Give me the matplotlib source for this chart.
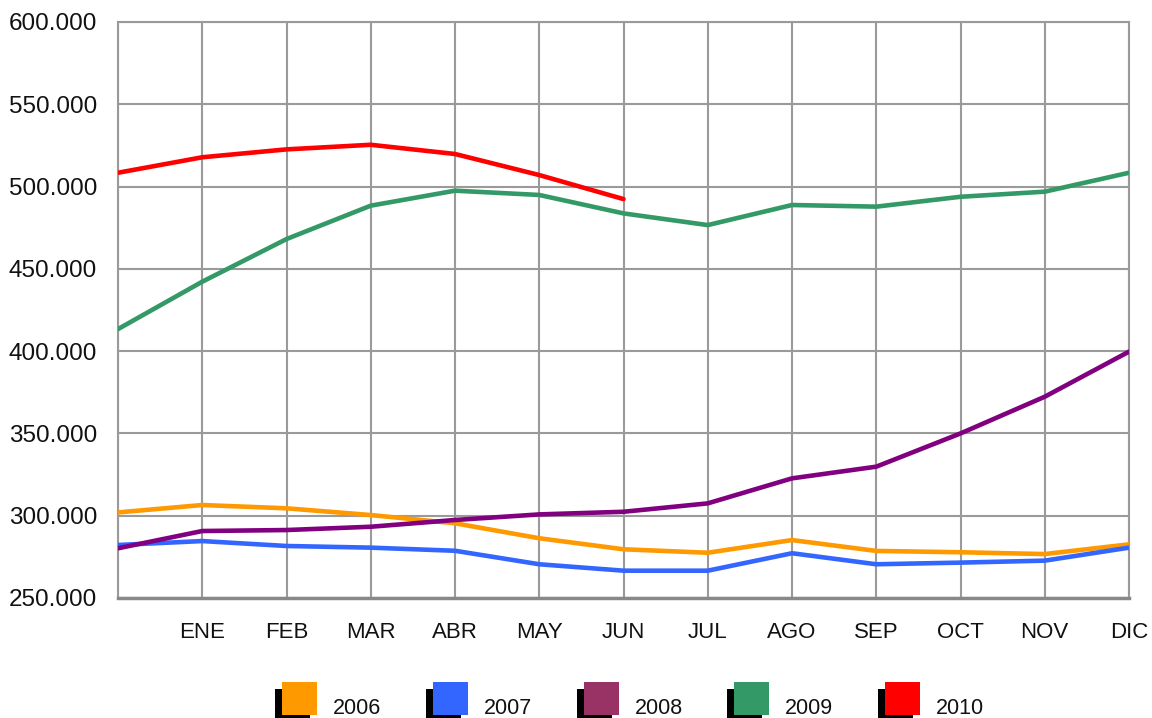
import matplotlib
matplotlib.use("Agg")
import matplotlib.pyplot as plt
from matplotlib.patches import Rectangle
from matplotlib.ticker import FuncFormatter, MultipleLocator

# ---- data ----
labels = ["", "ENE", "FEB", "MAR", "ABR", "MAY", "JUN", "JUL", "AGO", "SEP", "OCT", "NOV", "DIC"]
years = ["2006", "2007", "2008", "2009", "2010"]
v2006 = [302000, 306500, 304500, 300400, 295400, 286300, 279600, 277500, 285200, 278600, 277800, 276700, 282600]
v2007 = [282200, 284600, 281600, 280600, 278700, 270500, 266600, 266600, 277200, 270500, 271500, 272700, 280600]
v2008 = [280200, 290700, 291300, 293300, 297400, 300800, 302400, 307500, 322700, 329800, 350000, 372300, 399700]
v2009 = [413400, 442200, 468100, 488400, 497500, 494900, 483700, 476600, 488800, 487800, 493800, 496900, 508400]
v2010 = [508400, 517800, 522600, 525400, 519800, 507000, 492400]
series = [v2006, v2007, v2008, v2009, v2010]
line_colors = ["#FF9900", "#3366FF", "#800080", "#339966", "#FF0000"]
legend_colors = ["#FF9900", "#3366FF", "#993366", "#339966", "#FF0000"]

W, H = 1152, 718
fig = plt.figure(figsize=(W / 100, H / 100), dpi=100)
ax = fig.add_axes([118 / W, (H - 598) / H, (1129 - 118) / W, (598 - 22) / H])

grid_c = "#9a9a9a"
for vals, c in zip(series, line_colors):
    ax.plot(range(len(vals)), vals, color=c, lw=3.3, solid_capstyle="round",
            solid_joinstyle="round", zorder=3)

ax.set_xlim(0, len(labels) - 1)
ax.set_ylim(250000, 600000)
ax.set_xticks(range(len(labels)))
ax.set_xticklabels(labels)
ax.yaxis.set_major_locator(MultipleLocator(50000))
ax.yaxis.set_major_formatter(FuncFormatter(lambda v, p: f"{int(v):,}".replace(",", ".")))
ax.grid(True, color=grid_c, lw=1.5, zorder=1)
ax.tick_params(axis="both", length=0)
ax.tick_params(axis="y", pad=15, labelsize=17.5, labelcolor="#111111")
ax.tick_params(axis="x", pad=17, labelsize=16, labelcolor="#111111")
for lab in ax.get_yticklabels() + ax.get_xticklabels():
    lab.set_family(["Liberation Sans", "DejaVu Sans"])
for s in ["top", "right", "left"]:
    ax.spines[s].set_color(grid_c)
    ax.spines[s].set_linewidth(1.5)
ax.spines["bottom"].set_color("#888888")
ax.spines["bottom"].set_linewidth(2.5)

# ---- legend ----
x0, step = 282, 150.75
for i, (name, c) in enumerate(zip(years, legend_colors)):
    sx = x0 + i * step
    fig.add_artist(Rectangle(((sx - 7) / W, (H - 722) / H), 35 / W, 33 / H,
                             transform=fig.transFigure, facecolor="black", edgecolor="none"))
    fig.add_artist(Rectangle((sx / W, (H - 715) / H), 35 / W, 33 / H,
                             transform=fig.transFigure, facecolor=c, edgecolor="none"))
    fig.text((sx + 51) / W, (H - 714) / H, name, fontsize=15.5, va="baseline", ha="left",
             family=["Liberation Sans", "DejaVu Sans"], color="#111111")

fig.savefig("out.png", dpi=100)
